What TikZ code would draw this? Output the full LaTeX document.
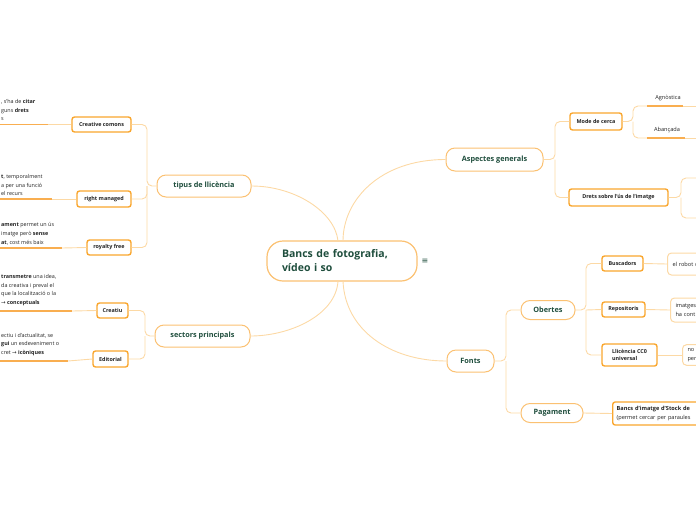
\documentclass[tikz,border=0pt]{standalone}
\usepackage{fontspec}
\setmainfont{Open Sans}
\newfontfamily\symfont{DejaVu Sans}
\definecolor{connc}{HTML}{FCD9A5}
\definecolor{pillc}{HTML}{FBC172}
\definecolor{boxc}{HTML}{F9A62E}
\definecolor{ulc}{HTML}{F9AE50}
\definecolor{dkgreen}{HTML}{1F4E3D}
\definecolor{txt}{HTML}{222222}
\newcommand{\arr}{{\symfont →}}
\begin{document}
\begin{tikzpicture}[x=1pt,y=-1pt,
  conn/.style={draw=connc, line width=0.9pt, rounded corners=5pt},
  uline/.style={draw=ulc, line width=1.3pt},
  central/.style={draw=pillc, line width=1.2pt, rounded corners=16pt, fill=white, text=dkgreen,
    font=\fontsize{10.5}{14}\selectfont\bfseries, align=left, text width=120pt, inner xsep=15pt, minimum height=40pt},
  pill/.style={draw=pillc, line width=1pt, rounded corners=9pt, fill=white, text=dkgreen,
    font=\fontsize{7.3}{9}\selectfont\bfseries, minimum height=22pt, inner xsep=2pt},
  lbox/.style={draw=boxc, line width=1.4pt, rounded corners=2.5pt, fill=white, text=txt,
    font=\fontsize{5.4}{7}\selectfont\bfseries, minimum height=15pt, inner xsep=2pt},
  side/.style={text=txt, font=\fontsize{5.4}{8.7}\selectfont, align=left, inner sep=0pt, anchor=south west},
  rtxt/.style={text=txt, font=\fontsize{5.6}{9.5}\selectfont, align=left, inner sep=0pt},
  tbox/.style={draw=connc, line width=1pt, rounded corners=4pt, fill=white, anchor=west, minimum width=60pt,
    text=txt, font=\fontsize{5.6}{9.5}\selectfont, align=left, inner xsep=5pt, text width=50pt}
]
\useasboundingbox (0,0) rectangle (696,520);
\clip (0,0) rectangle (696,520);

% ---------- central ----------
\node[central, minimum width=150pt] (root) at (342,261) {Bancs de fotografia,\\vídeo i so};
\node[text=dkgreen, font=\symfont\fontsize{8}{8}\selectfont, inner sep=0pt] (menu) at (425,261) {≡};

% ---------- level 1 ----------
\node[pill, minimum width=94pt] (tip) at (204,186) {tipus de llicència};
\node[pill, minimum width=95pt] (sec) at (202.5,336) {sectors principals};
\node[pill, minimum width=97pt, minimum height=23pt] (asp) at (494.5,159.5) {Aspectes generals};
\node[pill, minimum width=47pt] (fon) at (470.5,361) {Fonts};

\coordinate (rt1) at (338,241);
\coordinate (rt2) at (343,241);
\coordinate (rb1) at (338,281);
\coordinate (rb2) at (343,281);
\draw[conn] (tip.east) .. controls (295,186) and (335,212) .. (rt1);
\draw[conn] (rt2) .. controls (343,200) and (380,159.5) .. (asp.west);
\draw[conn] (rb1) .. controls (336,315) and (290,336) .. (sec.east);
\draw[conn] (rb2) .. controls (345,330) and (390,361) .. (fon.west);

% ---------- left: tipus de llicencia ----------
\node[lbox, minimum width=59pt] (cc) at (101.5,124.5) {Creative comons};
\node[lbox, minimum width=54pt, minimum height=16pt] (rm) at (104,199) {right managed};
\node[lbox, minimum width=44pt] (rf) at (109,247.5) {royalty free};
\coordinate (jt) at (147,186);
\draw[conn] (tip.west) -- (jt) |- (cc.east);
\draw[conn] (jt) |- (rm.east);
\draw[conn] (jt) |- (rf.east);

\node[side] (tcc) at (1,121) {, s'ha de \textbf{citar}\\guns \textbf{drets}\\s};
\coordinate (ucs) at (0,124.5); \coordinate (uce) at (48,124.5);
\draw[uline] (ucs) -- (uce); \draw[conn] (uce) -- (cc.west);

\node[side] (trm) at (1,196) {\textbf{t}, temporalment\\a per una funció\\el recurs};
\coordinate (urs) at (0,199); \coordinate (ure) at (52,199);
\draw[uline] (urs) -- (ure); \draw[conn] (ure) -- (rm.west);

\node[side] (trf) at (1,245) {\textbf{ament} permet un ús\\ imatge però \textbf{sense}\\\textbf{at}, cost més baix};
\coordinate (ufs) at (0,248); \coordinate (ufe) at (62,248);
\draw[uline] (ufs) -- (ufe); \draw[conn] (ufe) -- (rf.west);

% ---------- left: sectors ----------
\node[lbox, minimum width=31pt] (cr) at (112.5,310.5) {Creatiu};
\node[lbox, minimum width=35pt, minimum height=16pt] (ed) at (110.5,359) {Editorial};
\coordinate (js) at (145,336);
\draw[conn] (sec.west) -- (js) |- (cr.east);
\draw[conn] (js) |- (ed.east);

\node[side] (tcr) at (1,306) {\textbf{transmetre} una idea,\\da creativa i preval el\\que la localització o la\\\arr{} \textbf{conceptuals}};
\coordinate (ucrs) at (0,311); \coordinate (ucre) at (72,311);
\draw[uline] (ucrs) -- (ucre); \draw[conn] (ucre) -- (cr.west);

\node[side] (ted) at (1,356) {ectiu i d'actualitat, se\\\textbf{gui} un esdeveniment o\\cret \arr{} \textbf{icòniques}};
\coordinate (ueds) at (0,361); \coordinate (uede) at (68,361);
\draw[uline] (ueds) -- (uede); \draw[conn] (uede) -- (ed.west);

% ---------- right: aspectes generals ----------
\node[lbox, minimum width=52pt, minimum height=17pt] (mode) at (596,121.5) {Mode de cerca};
\node[lbox, minimum width=99pt, minimum height=17pt] (drets) at (618.5,197.5) {Drets sobre l'ús de l'imatge};
\coordinate (ja) at (555,159.5);
\draw[conn] (asp.east) -- (ja) |- (mode.west);
\draw[conn] (ja) |- (drets.west);

\node[rtxt] (agn) at (668,98) {Agnòstica};
\node[rtxt] (aba) at (667,130) {Abançada};
\coordinate (jm) at (633,121.5);
\coordinate (uas) at (647,106); \coordinate (uae) at (683,106); \coordinate (uax) at (700,106);
\coordinate (ubs) at (647,138); \coordinate (ube) at (685,138); \coordinate (ubx) at (700,138);
\draw[conn] (mode.east) -- (jm) |- (uas);
\draw[conn] (jm) |- (ubs);
\draw[uline] (uas) -- (uae); \draw[conn] (uae) -- (uax);
\draw[uline] (ubs) -- (ube); \draw[conn] (ube) -- (ubx);

\coordinate (jd) at (681,197.5);
\coordinate (dx1) at (705,178); \coordinate (dx2) at (705,218);
\draw[conn] (drets.east) -- (jd) |- (dx1);
\draw[conn] (jd) |- (dx2);

% ---------- right: fonts ----------
\node[pill, minimum width=54pt, minimum height=19pt] (obe) at (548,310) {Obertes};
\node[pill, minimum width=62pt, minimum height=19pt] (pag) at (552,413) {Pagament};
\coordinate (jf) at (506,361);
\draw[conn] (fon.east) -- (jf) |- (obe.west);
\draw[conn] (jf) |- (pag.west);

\node[lbox, minimum width=41pt] (bus) at (622.5,263.5) {Buscadors};
\node[lbox, minimum width=43pt] (rep) at (623.5,309.5) {Repositoris};
\node[lbox, minimum width=55pt, minimum height=22pt, align=left] (cc0) at (629.5,355) {Llicència CC0\\universal};
\coordinate (jo) at (586,310);
\draw[conn] (obe.east) -- (jo) |- (bus.west);
\draw[conn] (jo) -- (rep.west);
\draw[conn] (jo) |- (cc0.west);

\node[tbox, minimum height=22pt] (tbus) at (667,264) {el robot d\\ };
\node[tbox, minimum height=24pt] (trep) at (670,310) {imatges\\ha cont};
\node[tbox, minimum height=20pt] (tcc0) at (682,355) {no c\\per};
\draw[conn] (bus.east) -- (tbus.west);
\draw[conn] (rep.east) -- (trep.west);
\draw[conn] (cc0.east) -- (tcc0.west);

\node[draw=boxc, line width=1.4pt, rounded corners=2.5pt, fill=white, anchor=west, text=txt,
  font=\fontsize{5.6}{9.5}\selectfont, align=left, minimum height=23pt, text width=110pt, inner xsep=4pt]
  (stk) at (612,413.5) {\textbf{Bancs d'imatge d'Stock de}\\(permet cercar per paraules};
\draw[conn] (pag.east) -- (stk.west);
\end{tikzpicture}
\end{document}
